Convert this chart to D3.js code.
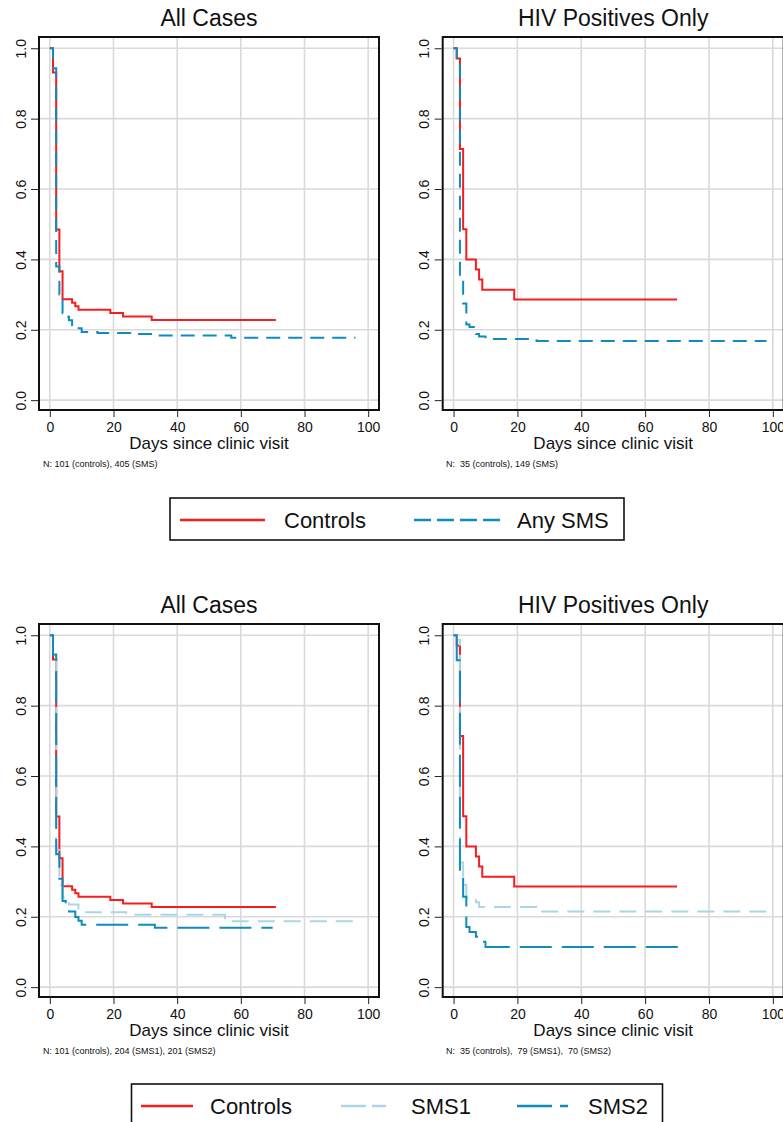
<!DOCTYPE html>
<html>
<head>
<meta charset="utf-8">
<script src="https://cdn.jsdelivr.net/npm/d3@7"></script>
<style>
body { margin: 0; background: #fff; }
svg { display: block; font-family: "Liberation Sans", Arial, Helvetica, sans-serif; }
</style>
</head>
<body>
<svg id="chart" width="783" height="1122"></svg>
<script>
// tick labels
var xTicks = [0, 20, 40, 60, 80, 100];
var yTicks = [0, 0.2, 0.4, 0.6, 0.8, 1.0];

// controls, all cases (n=101)
var ctrlAllDays = [0, 1, 2, 3, 4, 7, 8, 9, 19, 23, 32, 71];
var ctrlAllSurv = [1, 0.931, 0.485, 0.366, 0.287, 0.277, 0.267, 0.257, 0.248, 0.238, 0.228, 0.228];
// controls, HIV positives (n=35)
var ctrlHivDays = [0, 1, 2, 3, 4, 7, 8, 9, 19, 70];
var ctrlHivSurv = [1, 0.971, 0.714, 0.486, 0.400, 0.371, 0.343, 0.314, 0.286, 0.286];

// any SMS, all cases (n=405)
var smsAllDays = [0, 1, 2, 3, 4, 5, 6, 7, 8, 10, 15, 26, 34, 57, 96];
var smsAllSurv = [1, 0.943, 0.380, 0.300, 0.247, 0.237, 0.227, 0.213, 0.204, 0.194, 0.191, 0.188, 0.184, 0.177, 0.177];
// any SMS, HIV positives (n=149)
var smsHivDays = [0, 1, 2, 3, 4, 5, 7, 8, 10, 26, 98];
var smsHivSurv = [1, 0.960, 0.349, 0.275, 0.215, 0.208, 0.188, 0.181, 0.174, 0.168, 0.168];

// SMS1 / SMS2, all cases (n=204 / 201)
var sms1AllDays = [0, 1, 2, 3, 4, 5, 6, 9, 24, 55, 97];
var sms1AllSurv = [1, 0.950, 0.390, 0.290, 0.255, 0.245, 0.235, 0.213, 0.206, 0.187, 0.187];
var sms2AllDays = [0, 1, 2, 3, 4, 5, 6, 8, 9, 10, 33, 70];
var sms2AllSurv = [1, 0.945, 0.378, 0.308, 0.245, 0.229, 0.215, 0.199, 0.189, 0.177, 0.169, 0.169];

// SMS1 / SMS2, HIV positives (n=79 / 70)
var sms1HivDays = [0, 1, 2, 3, 4, 7, 8, 26, 98];
var sms1HivSurv = [1, 0.987, 0.354, 0.291, 0.253, 0.241, 0.228, 0.215, 0.215];
var sms2HivDays = [0, 1, 2, 3, 4, 5, 7, 8, 10, 71];
var sms2HivSurv = [1, 0.929, 0.329, 0.257, 0.171, 0.157, 0.143, 0.129, 0.114, 0.114];

var km = {};

var RED = '#f51d1d', BLUE = '#0f8bbd', LTBLUE = '#aad6e6';

km.panel = function(config){
    var svg = config.svg;
    var scaleX = d3.scaleLinear().domain([-3.4, 103.4]).range([config.left, config.right]);
    var scaleY = d3.scaleLinear().domain([-0.028, 1.032]).range([config.bottom, config.top]);
    var midX = (config.left + config.right) / 2;

    var g = svg.append('g');

    // grid
    g.selectAll('line.gx').data(xTicks).enter().append('line')
        .attr('x1', function(d){ return scaleX(d); })
        .attr('x2', function(d){ return scaleX(d); })
        .attr('y1', config.top).attr('y2', config.bottom)
        .attr('stroke', '#dadada').attr('stroke-width', 1.6);
    g.selectAll('line.gy').data(yTicks).enter().append('line')
        .attr('y1', function(d){ return scaleY(d); })
        .attr('y2', function(d){ return scaleY(d); })
        .attr('x1', config.left).attr('x2', config.right)
        .attr('stroke', '#dadada').attr('stroke-width', 1.6);

    // curves
    var line = d3.line()
        .x(function(d){ return scaleX(d[0]); })
        .y(function(d){ return scaleY(d[1]); })
        .curve(d3.curveStepAfter);
    config.series.forEach(function(s){
        g.append('path')
            .datum(d3.zip(s.days, s.surv))
            .attr('d', line)
            .attr('fill', 'none')
            .attr('stroke', s.color)
            .attr('stroke-width', 2)
            .attr('stroke-dasharray', s.dash || null);
    });

    // frame
    g.append('rect')
        .attr('x', config.left).attr('y', config.top)
        .attr('width', config.right - config.left)
        .attr('height', config.bottom - config.top)
        .attr('fill', 'none').attr('stroke', '#111').attr('stroke-width', 2);

    // axes
    var ax = g.append('g')
        .attr('transform', 'translate(0,' + (config.bottom + 1) + ')')
        .call(d3.axisBottom(scaleX).tickValues(xTicks).tickSize(6).tickPadding(5));
    ax.select('.domain').remove();
    ax.selectAll('line').attr('stroke', '#222');
    ax.selectAll('text').attr('font-size', 14).attr('fill', '#111').attr('font-family', null);

    var ay = g.append('g')
        .attr('transform', 'translate(' + (config.left - 1) + ',0)')
        .call(d3.axisLeft(scaleY).tickValues(yTicks).tickSize(7).tickFormat(d3.format('.1f')));
    ay.select('.domain').remove();
    ay.selectAll('line').attr('stroke', '#222');
    ay.selectAll('text')
        .attr('x', 0).attr('y', -12.5).attr('dy', null)
        .attr('transform', 'rotate(-90)')
        .attr('text-anchor', 'middle')
        .attr('font-size', 14).attr('fill', '#111').attr('font-family', null);

    // texts
    g.append('text').attr('x', midX).attr('y', config.top - 11)
        .attr('text-anchor', 'middle').attr('font-size', 23).attr('fill', '#111')
        .text(config.title);
    g.append('text').attr('x', midX).attr('y', config.bottom + 39)
        .attr('text-anchor', 'middle').attr('font-size', 17).attr('fill', '#111')
        .text('Days since clinic visit');
    g.append('text').attr('x', config.noteX).attr('y', config.bottom + 57)
        .attr('font-size', 9).attr('fill', '#111')
        .attr('xml:space', 'preserve').style('white-space', 'pre')
        .text(config.note);
};

km.legend = function(config){
    var g = config.svg.append('g');
    g.append('rect')
        .attr('x', config.x0).attr('y', config.y0)
        .attr('width', config.x1 - config.x0).attr('height', config.y1 - config.y0)
        .attr('fill', '#fff').attr('stroke', '#111').attr('stroke-width', 1.6);
    config.items.forEach(function(it){
        g.append('line')
            .attr('x1', it.lx0).attr('x2', it.lx1)
            .attr('y1', config.lineY).attr('y2', config.lineY)
            .attr('stroke', it.color).attr('stroke-width', 2.4)
            .attr('stroke-dasharray', it.dash || null);
        g.append('text').attr('x', it.tx).attr('y', config.textY)
            .attr('font-size', 22).attr('fill', '#111')
            .text(it.label);
    });
};

var svg = d3.select('#chart');
var off = 587;

km.panel({svg: svg, left: 39, right: 379, top: 37, bottom: 410, title: 'All Cases',
    noteX: 43, note: 'N: 101 (controls), 405 (SMS)',
    series: [
        {days: ctrlAllDays, surv: ctrlAllSurv, color: RED},
        {days: smsAllDays, surv: smsAllSurv, color: BLUE, dash: '14,8'}
    ]});
km.panel({svg: svg, left: 442.7, right: 783.7, top: 37, bottom: 410, title: 'HIV Positives Only',
    noteX: 446, note: 'N:  35 (controls), 149 (SMS)',
    series: [
        {days: ctrlHivDays, surv: ctrlHivSurv, color: RED},
        {days: smsHivDays, surv: smsHivSurv, color: BLUE, dash: '14,8'}
    ]});
km.panel({svg: svg, left: 39, right: 379, top: 37 + off, bottom: 410 + off, title: 'All Cases',
    noteX: 43, note: 'N: 101 (controls), 204 (SMS1), 201 (SMS2)',
    series: [
        {days: ctrlAllDays, surv: ctrlAllSurv, color: RED},
        {days: sms1AllDays, surv: sms1AllSurv, color: LTBLUE, dash: '17,9'},
        {days: sms2AllDays, surv: sms2AllSurv, color: BLUE, dash: '32,10'}
    ]});
km.panel({svg: svg, left: 442.7, right: 783.7, top: 37 + off, bottom: 410 + off, title: 'HIV Positives Only',
    noteX: 446, note: 'N:  35 (controls),  79 (SMS1),  70 (SMS2)',
    series: [
        {days: ctrlHivDays, surv: ctrlHivSurv, color: RED},
        {days: sms1HivDays, surv: sms1HivSurv, color: LTBLUE, dash: '17,9'},
        {days: sms2HivDays, surv: sms2HivSurv, color: BLUE, dash: '32,10'}
    ]});

km.legend({svg: svg, x0: 170, x1: 624, y0: 498, y1: 540, lineY: 520, textY: 528,
    items: [
        {label: 'Controls', color: RED, lx0: 180, lx1: 265, tx: 284},
        {label: 'Any SMS', color: BLUE, dash: '17,6', lx0: 414, lx1: 500, tx: 517}
    ]});
km.legend({svg: svg, x0: 131.5, x1: 662.5, y0: 1084, y1: 1132, lineY: 1106, textY: 1114,
    items: [
        {label: 'Controls', color: RED, lx0: 141, lx1: 193, tx: 210},
        {label: 'SMS1', color: LTBLUE, dash: '25,6', lx0: 341, lx1: 386, tx: 411},
        {label: 'SMS2', color: BLUE, dash: '35,8', lx0: 517, lx1: 568, tx: 588}
    ]});
</script>
</body>
</html>
